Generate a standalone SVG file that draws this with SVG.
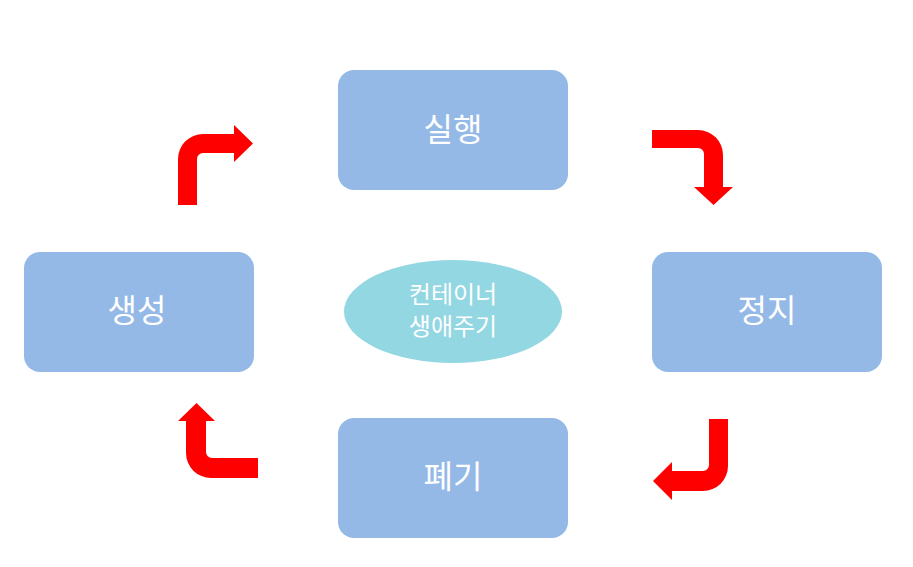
<svg xmlns="http://www.w3.org/2000/svg" width="913" height="567" viewBox="0 0 913 567">
<style>
.box{fill:#95b9e7;}
.t{fill:#ffffff;font-family:"Noto Sans CJK KR","Noto Sans",sans-serif;font-size:32px;text-anchor:middle;}
.e{fill:#ffffff;font-family:"Noto Sans CJK KR","Noto Sans",sans-serif;font-size:24px;text-anchor:middle;}
.arr{fill:#ff0000;}
</style>
<rect width="913" height="567" fill="#ffffff"/>
<g id="run"><rect class="box" x="338" y="70" width="230" height="120" rx="16"/><text class="t" x="453" y="141">실행</text></g>
<g id="create"><rect class="box" x="24" y="252" width="230" height="120" rx="16"/><text class="t" x="137" y="322">생성</text></g>
<g id="stop"><rect class="box" x="652" y="252" width="230" height="120" rx="16"/><text class="t" x="767" y="322">정지</text></g>
<g id="remove"><rect class="box" x="338" y="418" width="230" height="120" rx="16"/><text class="t" x="453" y="488">폐기</text></g>
<g id="center"><ellipse cx="453" cy="311.5" rx="109" ry="51.5" fill="#93d7e3"/><text class="e" x="453" y="303">컨테이너</text><text class="e" x="453" y="335">생애주기</text></g>
<g id="connectors">
<path class="arr" d="M178,205 L178,159 A25,25 0 0 1 203,134 L234,134 L234,125 L253,143.5 L234,162 L234,153 L203,153 A6,6 0 0 0 197,159 L197,205 Z"/>
<path class="arr" d="M652,130 L698,130 A25,25 0 0 1 723,155 L723,187 L733,187 L713.5,205 L694,187 L704,187 L704,154 A6,6 0 0 0 698,148 L652,148 Z"/>
<path class="arr" d="M728,419 L728,466 A25,25 0 0 1 703,491 L672,491 L672,500 L653,481 L672,462 L672,471 L703,471 A6,6 0 0 0 709,465 L709,419 Z"/>
<path class="arr" d="M258,478 L211,478 A25,25 0 0 1 186,453 L186,421 L178,421 L196.5,403 L215,421 L206,421 L206,452 A6,6 0 0 0 212,458 L258,458 Z"/>
</g>
</svg>
